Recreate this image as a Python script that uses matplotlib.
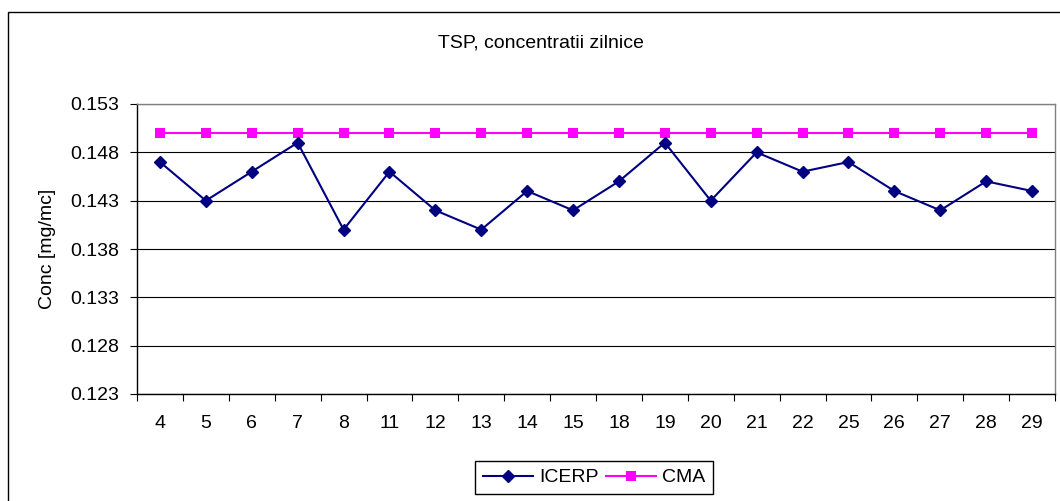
import numpy as np
import matplotlib
matplotlib.use('Agg')
import matplotlib.pyplot as plt
from matplotlib.patches import Rectangle

plt.rcParams['font.family'] = ['Liberation Sans', 'DejaVu Sans']

# ---- data ----
days = ['4', '5', '6', '7', '8', '11', '12', '13', '14', '15',
        '18', '19', '20', '21', '22', '25', '26', '27', '28', '29']
icerp = [0.147, 0.143, 0.146, 0.149, 0.140, 0.146, 0.142, 0.140, 0.144, 0.142,
         0.145, 0.149, 0.143, 0.148, 0.146, 0.147, 0.144, 0.142, 0.145, 0.144]
cma = [0.150, 0.150, 0.150, 0.150, 0.150, 0.150, 0.150, 0.150, 0.150, 0.150,
       0.150, 0.150, 0.150, 0.150, 0.150, 0.150, 0.150, 0.150, 0.150, 0.150]
y_ticks = [0.123, 0.128, 0.133, 0.138, 0.143, 0.148, 0.153]
title = 'TSP, concentratii zilnice'
ylabel = 'Conc [mg/mc]'

W, H = 1060, 501
fig = plt.figure(figsize=(W / 100, H / 100), dpi=100)
ax = fig.add_axes([137 / W, 1 - 394 / H, 918 / W, 290 / H])

x = np.arange(len(days))
ax.plot(x, icerp, color='#000080', lw=1.5, marker='D', ms=6.2, mew=1,
        mec='#000080', mfc='#000080', label='ICERP', zorder=4)
ax.plot(x, cma, color='#FF00FF', lw=1.5, marker='s', ms=7.5, mew=0,
        mfc='#FF00FF', label='CMA', zorder=3)

ax.set_xlim(-0.5, len(days) - 0.5)
ax.set_ylim(y_ticks[0], y_ticks[-1])

# x ticks at category boundaries, labels at centers
ax.set_xticks(np.arange(-0.5, len(days)), labels=[''] * (len(days) + 1))
ax.set_xticks(x, labels=days, minor=True)
ax.tick_params(axis='x', which='major', direction='out', length=5, width=0.8, color='black')
ax.tick_params(axis='x', which='minor', length=0, pad=15, labelsize=14)

ax.set_yticks(y_ticks, labels=[f'{v:.3f}' for v in y_ticks])
ax.tick_params(axis='y', direction='out', length=5, width=0.8, color='black', pad=8, labelsize=14)

ax.grid(axis='y', color='black', lw=0.8, zorder=1)
ax.set_axisbelow(True)

for s in ['top', 'right']:
    ax.spines[s].set_color('#808080')
    ax.spines[s].set_linewidth(1)
for s in ['left', 'bottom']:
    ax.spines[s].set_color('black')
    ax.spines[s].set_linewidth(1)

ax.set_ylabel(ylabel, fontsize=14)
ax.yaxis.set_label_coords(-0.088, 0.5)

fig.text(541 / W, 1 - 47 / H, title, ha='center', va='baseline', fontsize=14)

leg = ax.legend(loc='upper center', bbox_to_anchor=(594 / W, 1 - 461 / H),
                bbox_transform=fig.transFigure, ncol=2, frameon=True, fancybox=False,
                edgecolor='black', framealpha=1, handlelength=2.6, handletextpad=0.3,
                columnspacing=0.35, borderpad=0.4, borderaxespad=0, fontsize=14)
leg.get_frame().set_linewidth(1)

# outer chart border (cropped on right and bottom)
border = Rectangle((7.5 / W, -0.2), 1.5, (1 - 11.5 / H) + 0.2, transform=fig.transFigure,
                   fill=False, ec='black', lw=1)
fig.add_artist(border)

fig.savefig('out.png', dpi=100)
